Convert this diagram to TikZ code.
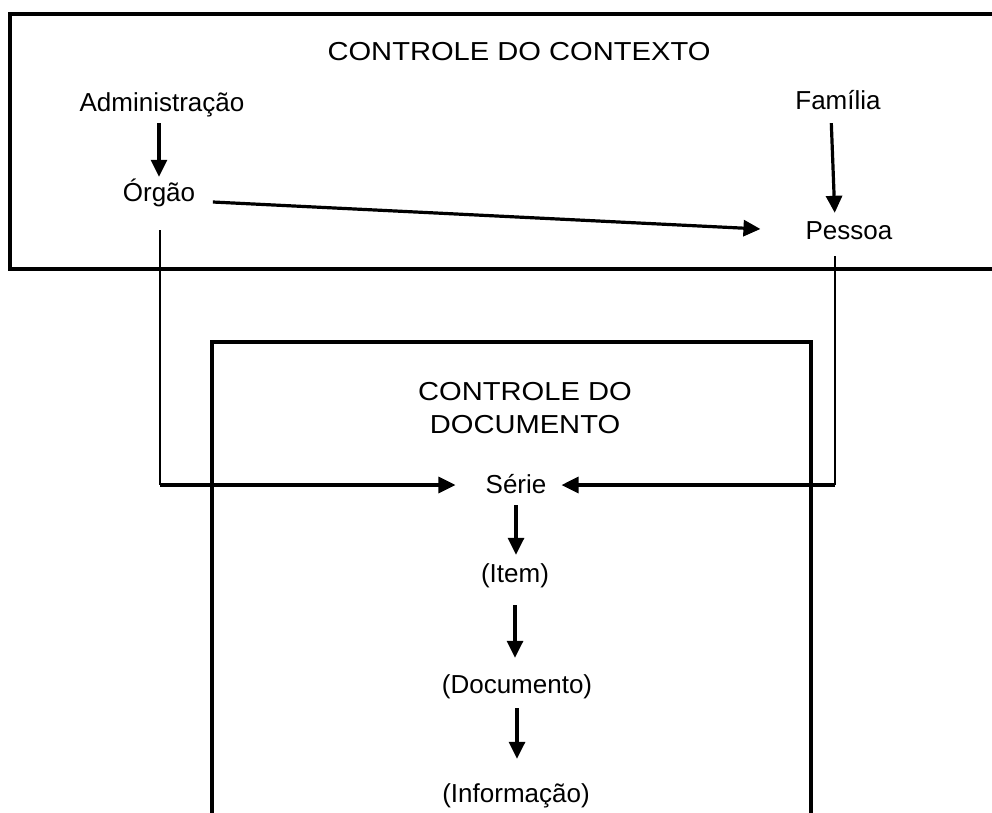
\documentclass[tikz,border=0pt]{standalone}
\usepackage{fontspec}
\setmainfont{Liberation Sans}
\newfontfamily\headfont[FakeStretch=1.12]{Liberation Sans}
\usetikzlibrary{arrows.meta}
\begin{document}
\begin{tikzpicture}[x=1pt,y=-1pt,
 lbl/.style={inner sep=0pt, anchor=base, font=\fontsize{26}{30}\selectfont, text height=19pt, text depth=6pt},
 head/.style={inner sep=0pt, anchor=base, font=\headfont\fontsize{26}{33}\selectfont, align=center},
 frame/.style={line width=3.3pt},
 arr/.style={line width=3.2pt, -{Triangle[length=17pt,width=16pt]}},
 link/.style={line width=1.6pt},
 hlink/.style={line width=3.1pt, -{Triangle[length=17pt,width=16pt]}}]
\useasboundingbox (0,0) rectangle (992,812);
% frames
\draw[frame] (993,14) -- (10,14) -- (10,269) -- (993,269);
\draw[frame] (212,813) -- (212,342) -- (811,342) -- (811,813);
% texts
\node[head] (ctx) at (519,60) {CONTROLE DO CONTEXTO};
\node[lbl] (adm) at (162,111) {Administração};
\node[lbl] (fam) at (838,109) {Família};
\node[lbl] (org) at (159,201) {Órgão};
\node[lbl] (pes) at (849,239) {Pessoa};
\node[head] (doc) at (525,433) {CONTROLE DO\\DOCUMENTO};
\node[lbl] (serie) at (516,493) {Série};
\node[lbl] (item) at (515,582) {(Item)};
\node[lbl] (docu) at (517,693) {(Documento)};
\node[lbl] (info) at (516,802) {(Informação)};
% context arrows
\draw[arr, shorten <=6pt, shorten >=5pt] (org.north |- adm.south) -- (org.north);
\draw[arr, shorten <=8pt, shorten >=7pt] ([xshift=-7pt]fam.south) -- ([xshift=-14pt]pes.north);
\draw[arr] ([xshift=17.5pt,yshift=-1pt]org.base east) -- ([xshift=-45pt,yshift=10pt]pes.base west);
% links to Série
\coordinate (cl) at (160,485);
\coordinate (cr) at (835,485);
\draw[link, shorten <=23pt] (cl |- org.south) -- (cl);
\draw[link, shorten <=11pt] (cr |- pes.south) -- (cr);
\draw[hlink, shorten >=30pt] (cl) -- (cl -| serie.west);
\draw[hlink, shorten >=15pt] (cr) -- (cr -| serie.east);
% document chain
\draw[arr, shorten <=6pt, shorten >=8pt] (serie.south) -- (serie.south |- item.north);
\draw[arr, shorten <=17pt, shorten >=16pt] (item.south) -- (item.south |- docu.north);
\draw[arr, shorten <=9pt, shorten >=24pt] (docu.south) -- (docu.south |- info.north);
\end{tikzpicture}
\end{document}
